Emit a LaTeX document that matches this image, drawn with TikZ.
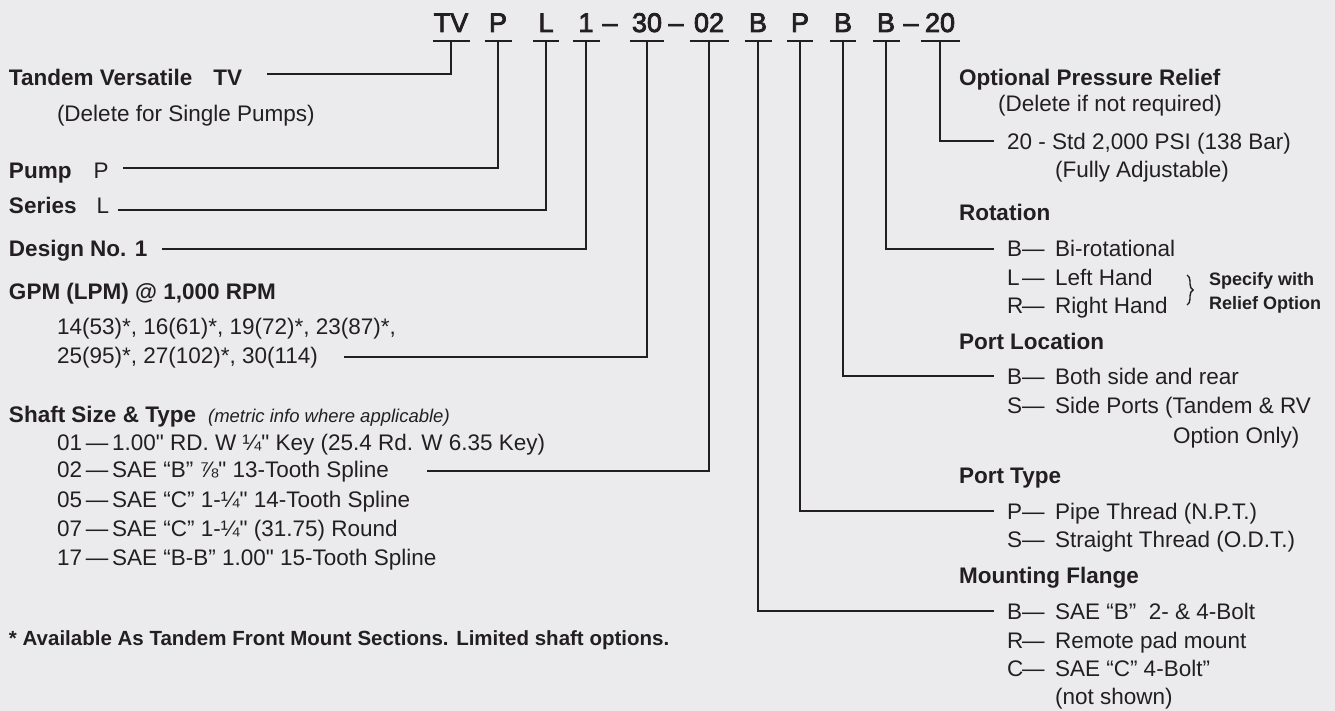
\documentclass[tikz,border=0pt]{standalone}
\usepackage{fontspec}
\newfontfamily\hsans{Liberation Sans}
\newfontfamily\hcode{Liberation Sans}[FakeBold=3]
\usepackage{tikz}
\usepackage{xcolor}
\usetikzlibrary{decorations.pathreplacing}

\definecolor{paper}{RGB}{235,235,237}
\definecolor{ink}{RGB}{35,31,32}
\newcommand{\opt}[2]{\makebox[48pt][l]{\makebox[15pt][l]{#1}—}#2}

\begin{document}
\begin{tikzpicture}[x=1pt, y=-1pt, line width=2pt, color=ink,
    code/.style={anchor=base, inner xsep=0pt, inner ysep=8pt, font=\hcode\fontsize{27}{30}\selectfont},
    head/.style={anchor=base west, inner sep=0pt, font=\hsans\fontsize{22.5}{27}\selectfont\bfseries},
    txt/.style={anchor=base west, inner sep=0pt, font=\hsans\fontsize{22.5}{27}\selectfont},
    small/.style={anchor=base west, inner sep=0pt, font=\hsans\fontsize{18}{21}\selectfont\bfseries}]
    \useasboundingbox (0,0) rectangle (1335,711);
    \fill[paper] (0,0) rectangle (1335,711);

    % model code
    \node[code, minimum width=35pt] (cTV) at (451,32) {TV};
    \node[code, minimum width=25pt] (cP) at (498,32) {P};
    \node[code, minimum width=24pt] (cL) at (546,32) {L};
    \node[code, minimum width=25pt] (cOne) at (586,32) {1};
    \node[code] (dA) at (610,32) {–};
    \node[code, minimum width=32pt] (cGpm) at (647,32) {30};
    \node[code] (dB) at (676,32) {–};
    \node[code, minimum width=37pt] (cShaft) at (709,32) {02};
    \node[code, minimum width=25pt] (cMount) at (758,32) {B};
    \node[code, minimum width=24pt] (cPort) at (800,32) {P};
    \node[code, minimum width=24pt] (cLoc) at (843,32) {B};
    \node[code, minimum width=25pt] (cRot) at (886,32) {B};
    \node[code] (dC) at (911,32) {–};
    \node[code, minimum width=37pt] (cRelief) at (940,32) {20};

    % left column
    \node[head] (tv) at (8,86) {Tandem Versatile\hspace{21pt}TV};
    \node[txt] (tvnote) at (56,122) {(Delete for Single Pumps)};
    \node[txt] (pump) at (8,179) {\textbf{Pump}\hspace{22pt}P};
    \node[txt] (series) at (8,214) {\textbf{Series}\hspace{20pt}L};
    \node[head] (design) at (8,257) {Design No. 1};
    \node[head] (gpm) at (8,299) {GPM (LPM) @ 1,000 RPM};
    \node[txt] (gpmA) at (56,334) {14(53)*, 16(61)*, 19(72)*, 23(87)*,};
    \node[txt] (gpmB) at (56,363) {25(95)*, 27(102)*, 30(114)};
    \node[head] (shaft) at (8,422) {Shaft Size \& Type\hspace{12pt}{\fontsize{18.5}{22}\selectfont\mdseries\itshape (metric info where applicable)}};
    \node[txt] (s01) at (56,450) {01\,—\,1.00" RD. W ¼" Key (25.4 Rd. W 6.35 Key)};
    \node[txt] (s02) at (56,477) {02\,—\,SAE “B” ⅞" 13-Tooth Spline};
    \node[txt] (s05) at (56,507) {05\,—\,SAE “C” 1-¼" 14-Tooth Spline};
    \node[txt] (s07) at (56,536) {07\,—\,SAE “C” 1-¼" (31.75) Round};
    \node[txt] (s17) at (56,565) {17\,—\,SAE “B-B” 1.00" 15-Tooth Spline};
    \node[head, font=\hsans\fontsize{20.5}{24}\selectfont\bfseries] (note) at (8,645) {* Available As Tandem Front Mount Sections. Limited shaft options.};

    % right column
    \node[head] (relief) at (958,86) {Optional Pressure Relief};
    \node[txt] (reliefnote) at (997,112) {(Delete if not required)};
    \node[txt] (r20) at (1006,150) {20 - Std 2,000 PSI (138 Bar)};
    \node[txt] (r20b) at (1054,178) {(Fully Adjustable)};
    \node[head] (rot) at (958,221) {Rotation};
    \node[txt] (rotB) at (1006,257) {\opt{B}{Bi-rotational}};
    \node[txt] (rotL) at (1006,285) {\opt{L}{Left Hand}};
    \node[txt] (rotR) at (1006,313) {\opt{R}{Right Hand}};
    \node[small] (spec) at (1208,285) {Specify with};
    \node[small] (specb) at (1208,309) {Relief Option};
    \node[head] (loc) at (958,349) {Port Location};
    \node[txt] (locB) at (1006,384) {\opt{B}{Both side and rear}};
    \node[txt] (locS) at (1006,413) {\opt{S}{Side Ports (Tandem \& RV}};
    \node[txt] (locSb) at (1172,443) {Option Only)};
    \node[head] (port) at (958,483) {Port Type};
    \node[txt] (portP) at (1006,519) {\opt{P}{Pipe Thread (N.P.T.)}};
    \node[txt] (portS) at (1006,547) {\opt{S}{Straight Thread (O.D.T.)}};
    \node[head] (mount) at (958,583) {Mounting Flange};
    \node[txt] (mountB) at (1006,619) {\opt{B}{SAE “B”\ \ 2- \& 4-Bolt}};
    \node[txt] (mountR) at (1006,648) {\opt{R}{Remote pad mount}};
    \node[txt] (mountC) at (1006,676) {\opt{C}{SAE “C” 4-Bolt”}};
    \node[txt] (mountCb) at (1054,704) {(not shown)};

    \coordinate (eTV) at (267,74);
    \coordinate (eP) at (123,168);
    \coordinate (eL) at (118,210);
    \coordinate (eOne) at (162,249);
    \coordinate (eGpm) at (344,357);
    \coordinate (eShaft) at (427,471);
    \coordinate (eMount) at (994,611);
    \coordinate (ePort) at (994,511);
    \coordinate (eLoc) at (994,376);
    \coordinate (eRot) at (994,249);
    \coordinate (eRelief) at (994,141);

    \draw (cTV.south west) -- (cTV.south east) (cTV.south) |- (eTV);
    \draw (cP.south west) -- (cP.south east) (cP.south) |- (eP);
    \draw (cL.south west) -- (cL.south east) (cL.south) |- (eL);
    \draw (cOne.south west) -- (cOne.south east) (cOne.south) |- (eOne);
    \draw (cGpm.south west) -- (cGpm.south east) (cGpm.south) |- (eGpm);
    \draw (cShaft.south west) -- (cShaft.south east) (cShaft.south) |- (eShaft);
    \draw (cMount.south west) -- (cMount.south east) (cMount.south) |- (eMount);
    \draw (cPort.south west) -- (cPort.south east) (cPort.south) |- (ePort);
    \draw (cLoc.south west) -- (cLoc.south east) (cLoc.south) |- (eLoc);
    \draw (cRot.south west) -- (cRot.south east) (cRot.south) |- (eRot);
    \draw (cRelief.south west) -- (cRelief.south east) (cRelief.south) |- (eRelief);

    \draw[line width=1.4pt, decorate, decoration={brace, amplitude=6pt}] (1187,275) -- (1187,305);
\end{tikzpicture}
\end{document}
